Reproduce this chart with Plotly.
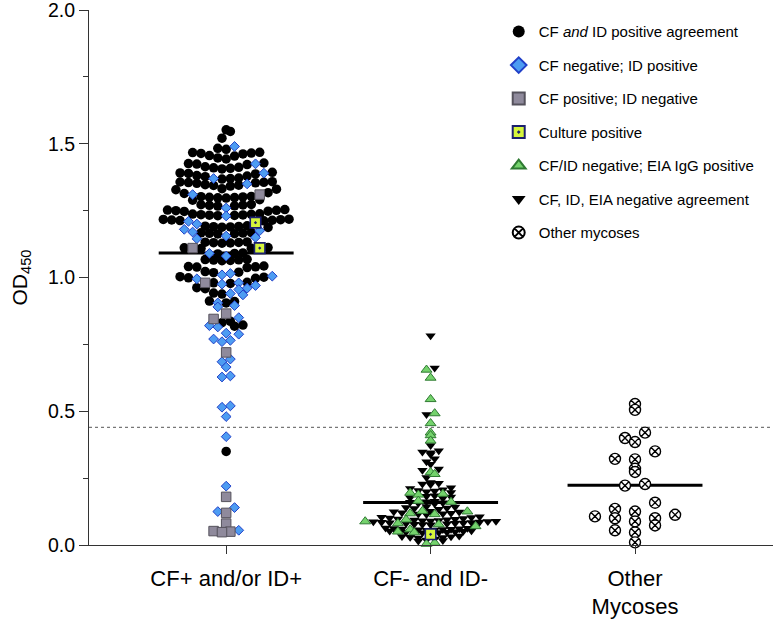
import numpy as np
import plotly.graph_objects as go

# ---------------- datos ----------------
categorias = ["CF+ and/or ID+", "CF- and ID-", "Other<br>Mycoses"]

# Grupo 1: CF+ and/or ID+
cf_id_pos = [
    1.552, 1.546, 1.521,
    1.483, 1.479,
    1.468, 1.467, 1.465, 1.464, 1.462,
    1.456, 1.454, 1.447, 1.443,
    1.428, 1.426, 1.424, 1.422,
    1.414, 1.412, 1.410, 1.408, 1.406,
    1.393, 1.391, 1.389, 1.387,
    1.381, 1.379, 1.377, 1.372, 1.370, 1.368,
    1.358, 1.357, 1.356, 1.355, 1.354, 1.352,
    1.347, 1.345, 1.344, 1.342,
    1.332, 1.330, 1.328, 1.317, 1.314,
    1.303, 1.302, 1.301, 1.300, 1.299, 1.298, 1.297,
    1.291, 1.289,
    1.273, 1.272, 1.271, 1.270, 1.268, 1.267,
    1.254, 1.252, 1.251, 1.250, 1.248, 1.247,
    1.238, 1.237, 1.236, 1.235, 1.234, 1.233, 1.232, 1.231,
    1.218, 1.217, 1.216, 1.215, 1.214, 1.213, 1.212,
    1.193, 1.192, 1.191, 1.190, 1.189, 1.188, 1.187,
    1.168, 1.167, 1.166, 1.165, 1.164, 1.163,
    1.133, 1.132, 1.131, 1.130, 1.129, 1.128,
    1.112, 1.111, 1.109, 1.108,
    1.092, 1.090, 1.088,
    1.068, 1.067, 1.066, 1.065, 1.064, 1.063,
    1.043, 1.041, 1.040, 1.039, 1.037,
    1.022, 1.020, 1.018,
    1.003, 1.001, 0.999, 0.997,
    0.982, 0.980, 0.978,
    0.962, 0.958, 0.942, 0.938,
    0.912, 0.910, 0.905,
    0.836, 0.831, 0.822, 0.818,
    0.350,
]
cf_neg_id_pos = [
    1.49, 1.425, 1.39, 1.37, 1.35, 1.31, 1.26, 1.23, 1.21, 1.20,
    1.18, 1.175, 1.17, 1.155, 1.15, 1.145, 1.09, 1.08, 1.015, 1.01,
    1.005, 0.995, 0.98, 0.975, 0.97, 0.96, 0.955, 0.94, 0.935, 0.905,
    0.895, 0.89, 0.85, 0.82, 0.815, 0.792, 0.788, 0.77, 0.765, 0.76,
    0.695, 0.685, 0.665, 0.632, 0.628, 0.52, 0.515, 0.48, 0.405, 0.22,
    0.14, 0.125, 0.055,
]
cf_pos_id_neg = [1.31, 1.11, 0.98, 0.865, 0.845, 0.72, 0.18, 0.12, 0.08, 0.052, 0.050, 0.048]
cultivo_g1 = [1.205, 1.11]

# Grupo 2: CF- and ID-
cultivo_g2 = [0.04]
eia_pos = [
    0.655, 0.625, 0.545, 0.492, 0.455, 0.42, 0.41, 0.39, 0.272, 0.265,
    0.195, 0.191, 0.188, 0.165, 0.161, 0.127, 0.125, 0.118, 0.115, 0.095,
    0.088, 0.081, 0.077, 0.07, 0.058, 0.05, 0.047, 0.008, 0.004,
]
todo_neg = [
    0.782, 0.662, 0.488, 0.372,
    0.352, 0.348, 0.345, 0.338,
    0.322, 0.311, 0.302, 0.284, 0.279, 0.252,
    0.234, 0.231, 0.228, 0.226,
    0.214, 0.211, 0.207,
    0.204, 0.202, 0.199, 0.196,
    0.184, 0.182, 0.179, 0.177, 0.175,
    0.164, 0.162, 0.160, 0.158, 0.156, 0.154,
    0.144, 0.142, 0.140, 0.138, 0.136, 0.134,
    0.126, 0.124, 0.123, 0.121, 0.119, 0.117, 0.116, 0.114,
    0.106, 0.104, 0.103, 0.101, 0.099, 0.097, 0.096, 0.094,
    0.093, 0.092, 0.091, 0.090, 0.089, 0.088, 0.087, 0.086, 0.085, 0.084,
    0.083, 0.082, 0.081, 0.080, 0.079, 0.078, 0.077, 0.076,
    0.064, 0.063, 0.062, 0.061, 0.060, 0.059, 0.058, 0.057, 0.056, 0.055,
    0.053, 0.052, 0.051, 0.050, 0.049, 0.048, 0.047, 0.046,
    0.034, 0.032, 0.031, 0.029, 0.028, 0.026,
    0.022, 0.019, 0.017, 0.015,
]

# Grupo 3: Other Mycoses
otras_micosis = [
    0.527, 0.505, 0.42, 0.40, 0.385, 0.35, 0.322, 0.32, 0.285, 0.273,
    0.228, 0.222, 0.158, 0.135, 0.125, 0.113, 0.107, 0.10, 0.10, 0.088,
    0.073, 0.055, 0.047, 0.01,
]

medias = [1.092, 0.159, 0.223]
corte = 0.44


# ---------------- swarm tipo Prism ----------------
def swarm(listas, paso, ancho):
    """listas: valores de todas las series de un grupo -> desplazamientos x por serie.
    Se agrupan por franjas de altura 'paso' y cada franja se reparte desde el centro."""
    vals = np.concatenate([np.asarray(l, dtype=float) for l in listas])
    bins = np.floor(vals / paso + 1e-9)
    off = np.zeros(len(vals))
    for b in np.unique(bins):
        idx = np.where(bins == b)[0]
        idx = idx[np.argsort(vals[idx], kind="stable")]
        n = len(idx)
        slots = (np.arange(n) - (n - 1) / 2) * ancho
        orden = np.argsort(np.abs(slots) + 1e-6 * np.arange(n), kind="stable")
        off[idx] = slots[orden]
    salida, i = [], 0
    for l in listas:
        salida.append(off[i:i + len(l)])
        i += len(l)
    return salida

g1 = swarm([cf_id_pos, cf_neg_id_pos, cf_pos_id_neg, cultivo_g1], 0.036, 0.041)
g2 = swarm([todo_neg, eia_pos, cultivo_g2], 0.018, 0.040)
g3 = swarm([otras_micosis], 0.04, 0.098)

fuente = "Liberation Sans, Arial, Helvetica, sans-serif"

series = [
    # nombre, x, y, simbolo, tamaño, color, borde, ancho borde, rango leyenda
    ("CF <i>and</i> ID positive agreement", 0 + g1[0], cf_id_pos, "circle", 9.5, "black", "black", 0, 1),
    ("CF negative; ID positive", 0 + g1[1], cf_neg_id_pos, "diamond", 7.5, "#4d9cf2", "#2140c8", 1, 2),
    ("CF positive; ID negative", 0 + g1[2], cf_pos_id_neg, "square", 9.5, "#8f8a9c", "#55525c", 1, 3),
    ("CF, ID, EIA negative agreement", 1 + g2[0], todo_neg, "triangle-down", 9, "black", "black", 0, 6),
    ("CF/ID negative; EIA IgG positive", 1 + g2[1], eia_pos, "triangle-up", 9.5, "#74d26c", "#2f7a32", 1, 5),
    ("Other mycoses", 2 + g3[0], otras_micosis, "circle-x", 11, "white", "black", 1.4, 7),
    ("Culture positive",
     np.concatenate([0 + g1[3], 1 + g2[2]]), cultivo_g1 + cultivo_g2,
     "square-dot", 10.5, "#d6f53c", "#1b1f6e", 1.6, 4),
]

fig = go.Figure()
for nombre, xs, ys, sim, tam, col, borde, lw, rk in series:
    fig.add_trace(go.Scatter(
        x=xs, y=ys, mode="markers", name=nombre, legendgroup=nombre, legendrank=rk,
        cliponaxis=False,
        marker=dict(symbol=sim, size=tam, color=col, line=dict(color=borde, width=lw)),
    ))

# medias de cada grupo
for i, m in enumerate(medias):
    fig.add_shape(type="line", xref="x", yref="y", x0=i - 0.33, x1=i + 0.33, y0=m, y1=m,
                  line=dict(color="black", width=3), layer="below")

# línea de corte punteada
fig.add_shape(type="line", xref="paper", yref="y", x0=0, x1=1, y0=corte, y1=corte,
              line=dict(color="#555", width=1, dash="dot"), layer="below")

fig.update_layout(
    width=773, height=621,
    margin=dict(l=89, r=0, t=10, b=76, autoexpand=False),
    paper_bgcolor="white", plot_bgcolor="white",
    font=dict(family=fuente, color="black"),
    showlegend=True,
    legend=dict(x=0.599, y=0.99, xanchor="left", yanchor="top",
                font=dict(size=15, family=fuente), itemsizing="constant",
                tracegroupgap=11, bgcolor="rgba(0,0,0,0)"),
    xaxis=dict(range=[-0.671, 2.675], tickmode="array", tickvals=[0, 1, 2], ticktext=categorias,
               ticks="outside", ticklen=8, tickcolor="#333", showline=True, linecolor="#333",
               linewidth=1.2, showgrid=False, zeroline=False, tickfont=dict(size=22),
               ticklabelstandoff=5, automargin=False),
    yaxis=dict(range=[0, 2], tickmode="array", tickvals=[0, 0.5, 1.0, 1.5, 2.0], tickformat=".1f",
               ticks="outside", ticklen=9, tickcolor="#333", showline=True, linecolor="#333",
               linewidth=1.2, showgrid=False, zeroline=False, tickfont=dict(size=19.5),
               ticklabeloverflow="allow",
               minor=dict(ticks="outside", ticklen=5, dtick=0.25, tickcolor="#333"),
               title=dict(text="OD<sub>450</sub>", font=dict(size=21), standoff=14),
               automargin=False),
)

# sin margen del body para que el gráfico ocupe la ventana
fig.write_html("out.html", config={"displayModeBar": False},
               post_script="document.body.style.margin='0px';")
